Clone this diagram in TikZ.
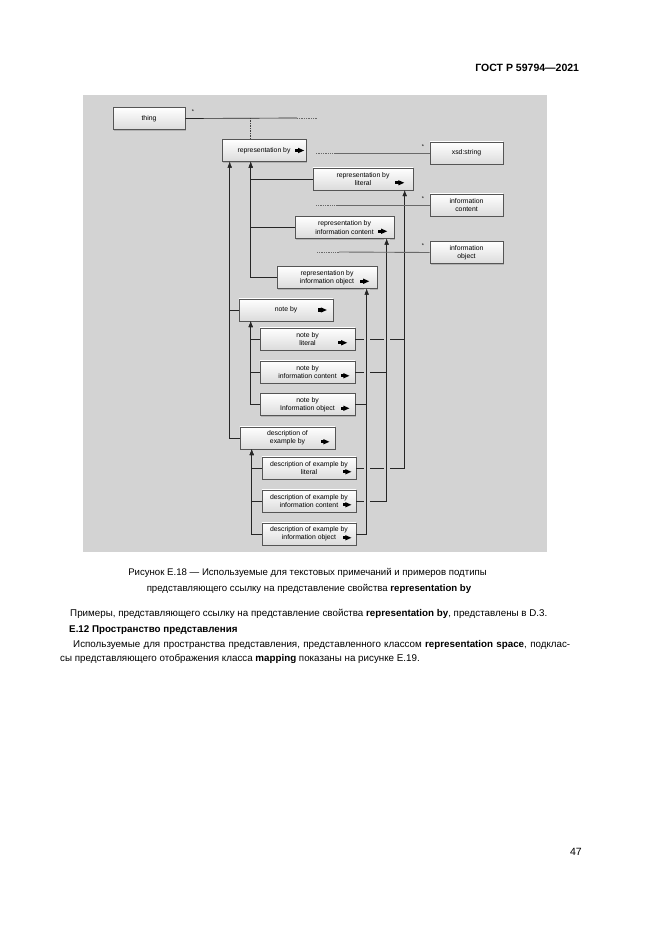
\documentclass[tikz,border=0pt]{standalone}
\usepackage{fontspec}
\setmainfont{Liberation Sans}
\usetikzlibrary{
        arrows,
        calc,
        positioning,
        shadows
    }
\definecolor{panelgray}{RGB}{211,211,211}
\definecolor{edgegray}{RGB}{85,85,85}
\definecolor{linkgray}{RGB}{105,105,105}
\newcommand{\boxfont}{\fontsize{6.2}{7.4}\selectfont}
\newcommand{\txtfont}{\fontsize{8.85}{11}\selectfont}
\tikzset{>=latex}
\tikzset{cls/.style={draw=edgegray,line width=0.5pt,top color=white,bottom color=gray!28,
        minimum width=#1,minimum height=7mm,inner sep=1pt,align=center,font=\boxfont,
        drop shadow={shadow xshift=0.4mm,shadow yshift=-0.4mm,opacity=0.4}}}
\tikzset{dir/.style 2 args={path picture={
        \fill ([xshift=-#1,yshift=#2]path picture bounding box.east) -- ++(-1.9mm,0.85mm) -- ++(0,-1.7mm) -- cycle;
        \fill ([xshift={-#1-1.8mm},yshift={#2-0.5mm}]path picture bounding box.east) rectangle ++(-1mm,1mm);}}}
\tikzset{link/.style={draw=black!85,line width=0.8pt}}
\tikzset{gap/.style={draw=panelgray,line width=1.9mm}}
\tikzset{attr/.style={draw=linkgray,line width=0.8pt}}
\tikzset{fade/.style={draw=linkgray,densely dotted,line width=0.6pt}}
\tikzset{hook/.style={draw=black!75,densely dotted,line width=0.5pt}}
\tikzset{star/.style={font=\fontsize{5}{5}\selectfont,inner sep=0pt}}

\begin{document}
\begin{tikzpicture}[x=0.3177mm,y=-0.3177mm]
    \useasboundingbox (0,0) rectangle (661,935);
    \fill[white] (0,0) rectangle (661,935);
    \node[anchor=base east,font=\fontsize{9.5}{11}\selectfont\bfseries] (hdr) at (583,72) {ГОСТ Р 59794—2021};
    \fill[panelgray] (83,95) rectangle (547,552);

    % classes
    \node[cls=22.9mm] (thing) at (149,118.5) {thing};
    \node[cls=26.7mm,dir={0.6mm}{0mm}] (repby) at (264,150.5) {representation by};
    \node[cls=23.2mm] (xsd) at (466.5,153) {xsd:string};
    \node[cls=31.8mm,dir={2.8mm}{-1.2mm}] (rbl) at (363,179) {representation by\\literal};
    \node[cls=23.2mm] (icont) at (466.5,205) {information\\content};
    \node[cls=31.5mm,dir={2.2mm}{-1.2mm}] (rbic) at (344.5,227.5) {representation by\\information content};
    \node[cls=23.2mm] (iobj) at (466.5,252.5) {information\\object};
    \node[cls=31.8mm,dir={2.5mm}{-1.2mm}] (rbio) at (327,277.5) {representation by\\information object};
    \node[cls=29.9mm,dir={2mm}{0mm}] (noteby) at (286,310) {note by};
    \node[cls=30.2mm,dir={2.5mm}{-1.2mm}] (nbl) at (307.5,339) {note by\\literal};
    \node[cls=30.2mm,dir={1.8mm}{-1.2mm}] (nbic) at (307.5,372) {note by\\information content};
    \node[cls=30.2mm,dir={1.8mm}{-1.2mm}] (nbio) at (307.5,404.5) {note by\\Information object};
    \node[cls=30.2mm,dir={1.8mm}{-1.2mm}] (deb) at (287.5,438) {description of\\example by};
    \node[cls=29.9mm,dir={1.5mm}{-1.2mm}] (debl) at (309,468) {description of example by\\literal};
    \node[cls=29.9mm,dir={1.5mm}{-1.2mm}] (debic) at (309,501) {description of example by\\information content};
    \node[cls=29.9mm,dir={1.5mm}{-1.2mm}] (debio) at (309,534) {description of example by\\information object};

    % trunk tops
    \coordinate (ta) at ($(repby.south west)+(8,0)$);
    \coordinate (tb) at ($(repby.south west)+(29,0)$);
    \coordinate (tn) at ($(noteby.south west)+(12,0)$);
    \coordinate (td) at ($(deb.south west)+(12,0)$);
    \coordinate (r1) at ($(rbl.south west)+(92,0)$);
    \coordinate (r2) at ($(rbic.south west)+(92,0)$);
    \coordinate (r3) at ($(rbio.south west)+(90,0)$);

    % attribute lines
    \coordinate (thingdot) at (297,118);
    \coordinate (thingend) at (318,118);
    \coordinate (xsddot) at (336,153);
    \coordinate (xsdend) at (316,153);
    \coordinate (icdot) at (338,205);
    \coordinate (icend) at (316,205);
    \coordinate (iodot) at (339,252);
    \coordinate (ioend) at (317,252);
    \draw[black!85,line width=0.6pt] (thing.east) -- (thingdot);
    \draw[fade] (thingdot) -- (thingend);
    \draw[hook] (thingdot -| tb) -- (repby.north -| tb);
    \node[star] (s0) at (193,112) {*};

    % left subproperties
    \draw[->,link] (rbl.west) -| (tb);
    \draw[->,link] (rbic.west) -| (tb);
    \draw[->,link] (rbio.west) -| (tb);
    \draw[->,link] (noteby.west) -| (ta);
    \draw[->,link] (deb.west) -| (ta);
    \draw[->,link] (nbl.west) -| (tn);
    \draw[->,link] (nbic.west) -| (tn);
    \draw[->,link] (nbio.west) -| (tn);
    \draw[->,link] (debl.west) -| (td);
    \draw[->,link] (debic.west) -| (td);
    \draw[->,link] (debio.west) -| (td);

    % right subproperties, with jumps
    \draw[->,link] (nbl.east) -| (r1);
    \draw[->,link] (debl.east) -| (r1);
    \path[gap] (r2) -- (r2 |- debic.east);
    \draw[->,link] (nbic.east) -| (r2);
    \draw[->,link] (debic.east) -| (r2);
    \path[gap] (r3) -- (r3 |- debio.east);
    \draw[->,link] (nbio.east) -| (r3);
    \draw[->,link] (debio.east) -| (r3);

    % ranges
    \draw[attr] (xsd.west) -- (xsddot);
    \draw[fade] (xsddot) -- (xsdend);
    \draw[hook] ($(rbl.north west)+(71,0)$) -- ($(rbl.north west)+(71,0)$ |- xsddot);
    \node[star] (s1) at (423,147) {*};
    \draw[attr] (icont.west) -- (icdot);
    \draw[fade] (icdot) -- (icend);
    \draw[hook] ($(rbic.north west)+(76,0)$) -- ($(rbic.north west)+(76,0)$ |- icdot);
    \node[star] (s2) at (423,199) {*};
    \draw[attr] (iobj.west) -- (iodot);
    \draw[fade] (iodot) -- (ioend);
    \draw[hook] ($(rbio.north west)+(77,0)$) -- ($(rbio.north west)+(77,0)$ |- iodot);
    \node[star] (s3) at (423,246) {*};

    % caption and text
    \node[anchor=base,font=\fontsize{8.7}{11}\selectfont] (cap1) at (307.5,575)
        {Рисунок Е.18 — Используемые для текстовых примечаний и примеров подтипы};
    \node[anchor=base,font=\fontsize{8.7}{11}\selectfont] (cap2) at (309,591)
        {представляющего ссылку на представление свойства \textbf{representation by}};
    \node[anchor=base west,inner sep=0pt,font=\txtfont] (par1) at (70,616)
        {Примеры, представляющего ссылку на представление свойства \textbf{representation by}, представлены в D.3.};
    \node[anchor=base west,inner sep=0pt,font=\txtfont\bfseries] (sec) at (69,632)
        {Е.12 Пространство представления};
    \node[anchor=base west,inner sep=0pt,font=\txtfont] (par2) at (73,647)
        {\makebox[157.9mm][s]{Используемые для пространства представления, представленного классом \textbf{representation space}, подклас-}};
    \node[anchor=base west,inner sep=0pt,font=\txtfont] (par3) at (60,661)
        {сы представляющего отображения класса \textbf{mapping} показаны на рисунке Е.19.};
    \node[anchor=base east,inner sep=0pt,font=\fontsize{9.5}{11}\selectfont] (pg) at (582,855) {47};
\end{tikzpicture}
\end{document}
